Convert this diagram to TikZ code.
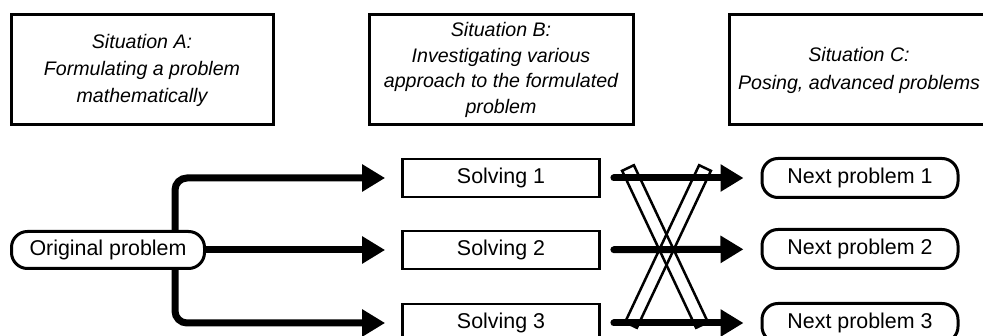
\documentclass[tikz,border=0pt]{standalone}
\usepackage{fontspec}
\setmainfont{Liberation Sans}
\usetikzlibrary{arrows.meta,calc}
\begin{document}
\begin{tikzpicture}[x=1pt,y=-1pt,
  topbox/.style={draw,line width=3pt,minimum width=262pt,minimum height=110pt,inner sep=0pt,align=center,font=\fontsize{19.6}{27}\selectfont\itshape},
  sqbox/.style={draw,line width=2.8pt,minimum width=197pt,minimum height=38pt,inner sep=0pt,font=\fontsize{21.4}{24}\selectfont},
  roundbox/.style={draw,line width=3pt,rounded corners=16pt,minimum height=37pt,inner sep=0pt,font=\fontsize{21.4}{24}\selectfont},
  arr/.style={line width=7pt,-{Triangle[length=23pt,width=26pt]}},
  band/.style={line width=2.5pt,line join=miter}]
\useasboundingbox (0,0) rectangle (983,336);
\clip (0,0) rectangle (983,336);

% top situation boxes
\node[topbox] (sa) at (142,70) {Situation A:\\Formulating a problem\\mathematically};
\node[topbox,minimum width=264pt,font=\fontsize{19.6}{25.5}\selectfont\itshape] (sb) at (501,70) {Situation B:\\Investigating various\\approach to the formulated\\problem};
\node[topbox,minimum width=260pt,font=\fontsize{19.6}{28}\selectfont\itshape] (sc) at (859,70) {Situation C:\\Posing, advanced problems};

% bottom row
\node[roundbox,minimum width=193pt] (orig) at (108,250) {Original problem};
\node[sqbox] (s1) at (501,178) {Solving 1};
\node[sqbox] (s2) at (501,250) {Solving 2};
\node[sqbox] (s3) at (501,323) {Solving 3};
\node[roundbox,minimum width=196pt,minimum height=39pt] (n1) at (860,178) {Next problem 1};
\node[roundbox,minimum width=196pt,minimum height=39pt] (n2) at (860,249) {Next problem 2};
\node[roundbox,minimum width=196pt,minimum height=39pt] (n3) at (860,323) {Next problem 3};

% branching arrows
\coordinate (br) at (175,250);
\draw[arr,shorten >=16pt] (orig) -- (s2);
\draw[arr,rounded corners=12pt,shorten >=16pt] (br |- orig.north) |- (s1);
\draw[arr,rounded corners=12pt,shorten >=16pt] (br |- orig.south) |- (s3);

% crossing bands
\draw[band] (633.9,165.2) -- (622.1,170.8) -- (696.1,327.8) -- (707.9,322.2) -- cycle;
\draw[band] (699.1,165.2) -- (710.9,170.8) -- (636.9,327.8) -- (625.1,322.2) -- cycle;

% right arrows
\draw[arr,line cap=round,shorten <=13pt,shorten >=17pt] (s1) -- (n1);
\draw[arr,line cap=round,shorten <=13pt,shorten >=17pt] (s2) -- (n2);
\draw[arr,line cap=round,shorten <=13pt,shorten >=17pt] (s3) -- (n3);
\end{tikzpicture}
\end{document}
